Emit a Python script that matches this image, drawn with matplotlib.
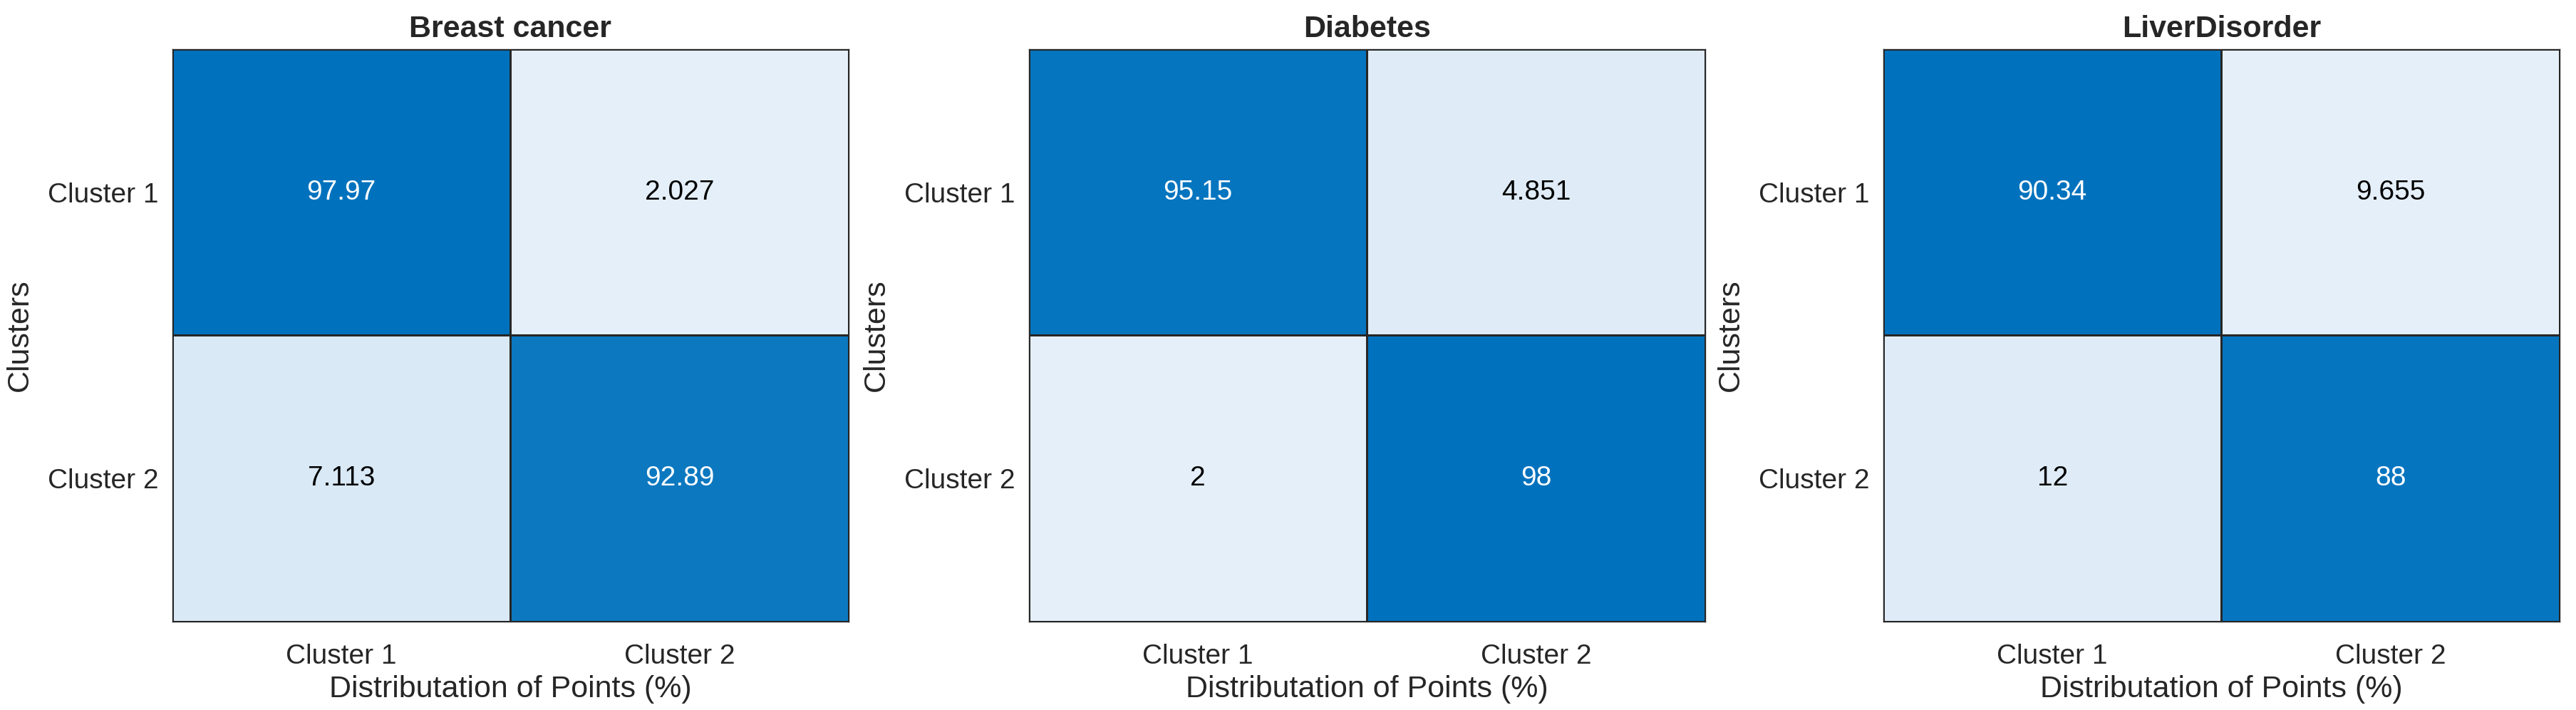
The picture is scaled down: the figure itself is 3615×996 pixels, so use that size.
import numpy as np
import matplotlib
matplotlib.use('Agg')
import matplotlib.pyplot as plt
from matplotlib.colors import LinearSegmentedColormap

plt.rcParams['font.family'] = ['Liberation Sans', 'DejaVu Sans']

titles = ['Breast cancer', 'Diabetes', 'LiverDisorder']
clusters = ['Cluster 1', 'Cluster 2']
breast = [[97.97, 2.027], [7.113, 92.89]]
diabetes = [[95.15, 4.851], [2, 98]]
liver = [[90.34, 9.655], [12, 88]]
labels = [['97.97', '2.027'], ['7.113', '92.89']], [['95.15', '4.851'], ['2', '98']], [['90.34', '9.655'], ['12', '88']]

cmap = LinearSegmentedColormap.from_list('mblue', ['#E5EFF9', '#0072BD'])
txt = '#262626'

fig = plt.figure(figsize=(36.16, 9.96), dpi=100)
lefts = [242, 1444, 2643]
for i, (data, name) in enumerate(zip([breast, diabetes, liver], titles)):
    vals = np.array(data, dtype=float)
    ax = fig.add_axes([lefts[i] / 3616, 1 - 872 / 996, 949 / 3616, 803 / 996])
    ax.pcolormesh(vals, cmap=cmap, vmin=vals.min(), vmax=vals.max(),
                  edgecolors=txt, linewidth=1.0)
    ax.set_xlim(0, 2)
    ax.set_ylim(2, 0)
    for r in range(2):
        for c in range(2):
            frac = (vals[r, c] - vals.min()) / (vals.max() - vals.min())
            ax.text(c + 0.5, r + 0.5, labels[i][r][c], ha='center', va='center',
                    fontsize=28, color='white' if frac > 0.5 else 'black')
    ax.set_xticks([0.5, 1.5])
    ax.set_yticks([0.5, 1.5])
    ax.set_xticklabels(clusters)
    ax.set_yticklabels(clusters)
    ax.tick_params(length=0, labelsize=28, labelcolor=txt, pad=14)
    ax.tick_params(axis='x', pad=22)
    for s in ax.spines.values():
        s.set_color(txt)
        s.set_linewidth(1.0)
    ax.set_xlabel('Distributation of Points (%)', fontsize=31, color=txt, labelpad=6)
    ax.set_ylabel('Clusters', fontsize=31, color=txt, labelpad=14)
    ax.set_title(name, fontsize=31, fontweight='bold', color=txt, pad=12)

fig.savefig('out.png', dpi=100)
